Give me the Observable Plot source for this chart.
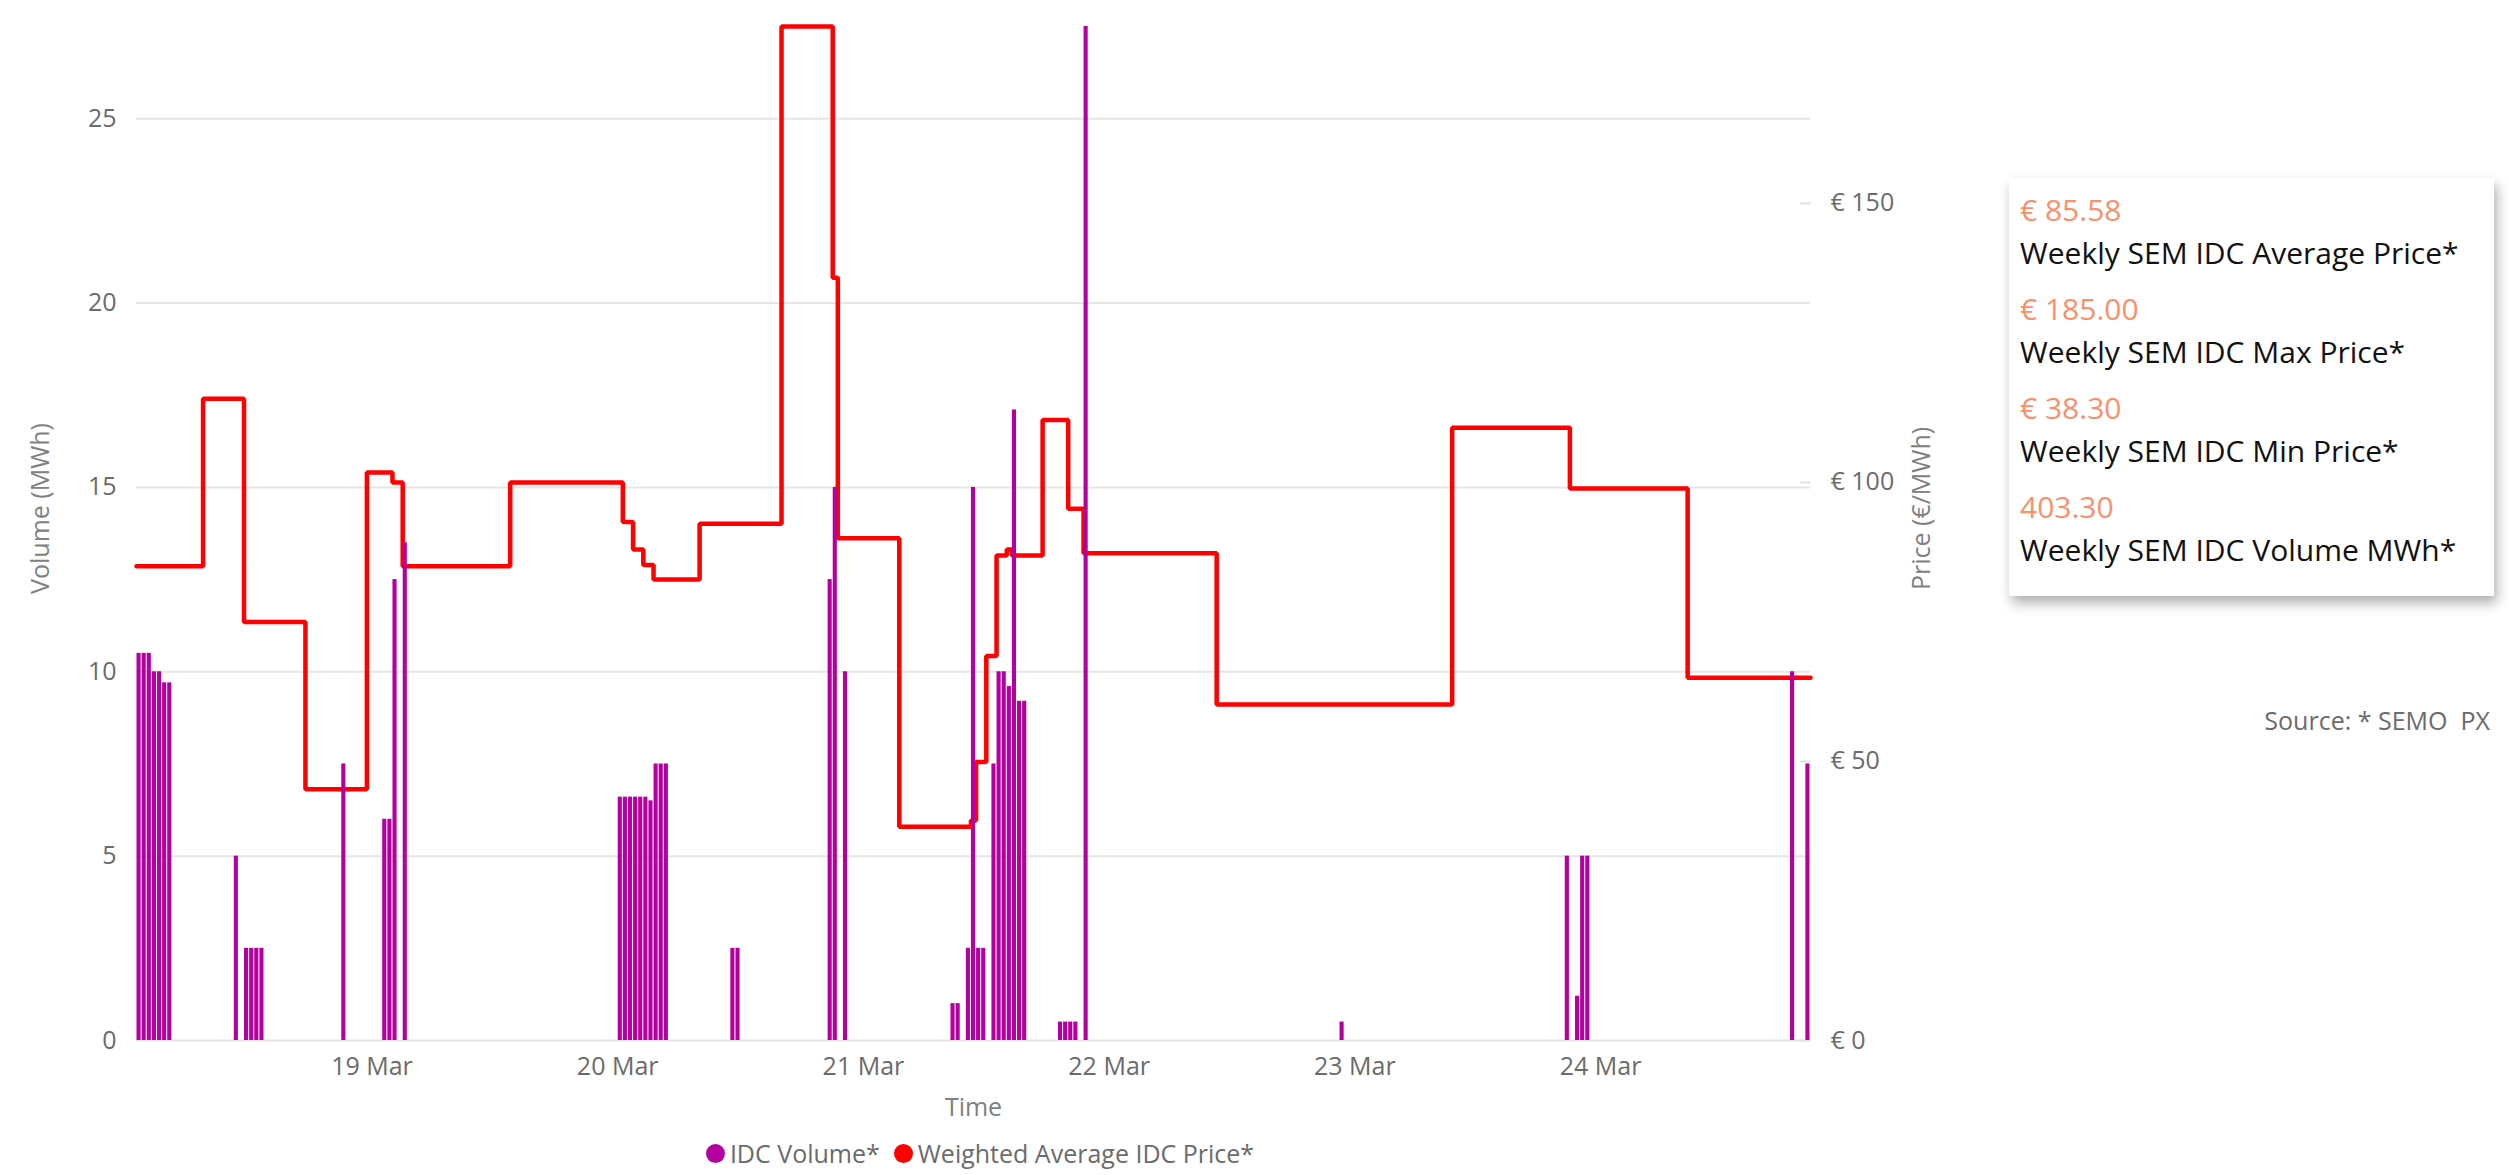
<!DOCTYPE html>
<html>
<head>
<meta charset="utf-8">
<script src="https://cdn.jsdelivr.net/npm/d3@7"></script>
<script src="https://cdn.jsdelivr.net/npm/@observablehq/plot@0.6"></script>
<style>
  html, body { margin: 0; padding: 0; background: #fff; }
  #page { position: relative; width: 2509px; height: 1175px; overflow: hidden; font-family: 'Open Sans', sans-serif; }
  #chart { position: absolute; left: 0; top: 0; }
  #legend { position: absolute; left: 0; width: 1960px; top: 1136px; height: 34px; display: flex; justify-content: center; align-items: center; font-size: 25px; color: #6b6b6b; white-space: nowrap; }
  #legend .item { display: flex; align-items: center; }
  #legend .dot { width: 19px; height: 19px; border-radius: 50%; margin-right: 5px; }
  #legend .item + .item { margin-left: 14px; }
  #card { position: absolute; left: 2009px; top: 178px; width: 485px; height: 418px; background: #fff; box-shadow: 3px 7px 12px rgba(0,0,0,0.32); box-sizing: border-box; padding: 10px 0 0 11px; }
  #card .val { font-size: 30px; line-height: 43px; color: #fa8f6a; white-space: nowrap; }
  #card .lab { font-size: 30px; line-height: 43px; color: #111; white-space: nowrap; margin-bottom: 13px; }
  #source { position: absolute; right: 19px; top: 703px; font-size: 25px; line-height: 34px; color: #6b6b6b; white-space: pre; }
</style>
</head>
<body>
<div id="page">
  <div id="chart"></div>
  <div id="legend"></div>
  <div id="card"></div>
  <div id="source"></div>
</div>
<script>
// ---- data ----
const volumeTimes = [
  "2024-03-18T01:00","2024-03-18T01:30","2024-03-18T02:00","2024-03-18T02:30","2024-03-18T03:00","2024-03-18T03:30","2024-03-18T04:00",
  "2024-03-18T10:30",
  "2024-03-18T11:30","2024-03-18T12:00","2024-03-18T12:30","2024-03-18T13:00",
  "2024-03-18T21:00",
  "2024-03-19T01:00","2024-03-19T01:30","2024-03-19T02:00","2024-03-19T03:00",
  "2024-03-20T00:00","2024-03-20T00:30","2024-03-20T01:00","2024-03-20T01:30","2024-03-20T02:00","2024-03-20T02:30","2024-03-20T03:00","2024-03-20T03:30","2024-03-20T04:00","2024-03-20T04:30",
  "2024-03-20T11:00","2024-03-20T11:30",
  "2024-03-20T20:30","2024-03-20T21:00","2024-03-20T22:00",
  "2024-03-21T08:30","2024-03-21T09:00","2024-03-21T10:00","2024-03-21T10:30","2024-03-21T11:00","2024-03-21T11:30",
  "2024-03-21T12:30","2024-03-21T13:00","2024-03-21T13:30","2024-03-21T14:00","2024-03-21T14:30","2024-03-21T15:00","2024-03-21T15:30",
  "2024-03-21T19:00","2024-03-21T19:30","2024-03-21T20:00","2024-03-21T20:30",
  "2024-03-21T21:30",
  "2024-03-22T22:30",
  "2024-03-23T20:30","2024-03-23T21:30","2024-03-23T22:00","2024-03-23T22:30",
  "2024-03-24T18:30","2024-03-24T20:00"
];
const volumeValues = [
  10.5,10.5,10.5,10.0,10.0,9.7,9.7,
  5.0,
  2.5,2.5,2.5,2.5,
  7.5,
  6.0,6.0,12.5,13.5,
  6.6,6.6,6.6,6.6,6.6,6.6,6.5,7.5,7.5,7.5,
  2.5,2.5,
  12.5,15.0,10.0,
  1.0,1.0,2.5,15.0,2.5,2.5,
  7.5,10.0,10.0,9.6,17.1,9.2,9.2,
  0.5,0.5,0.5,0.5,
  27.5,
  0.5,
  5.0,1.2,5.0,5.0,
  10.0,7.5
];
const priceTimes = [
  "2024-03-18T01:00","2024-03-18T07:30","2024-03-18T11:30","2024-03-18T17:30","2024-03-18T23:30",
  "2024-03-19T02:00","2024-03-19T03:00","2024-03-19T13:30",
  "2024-03-20T00:30","2024-03-20T01:30","2024-03-20T02:30","2024-03-20T03:30","2024-03-20T08:00","2024-03-20T16:00","2024-03-20T21:00","2024-03-20T21:30",
  "2024-03-21T03:30","2024-03-21T10:30","2024-03-21T11:00","2024-03-21T12:00","2024-03-21T13:00","2024-03-21T14:00","2024-03-21T14:30","2024-03-21T17:30","2024-03-21T20:00","2024-03-21T21:30",
  "2024-03-22T10:30","2024-03-23T09:30","2024-03-23T21:00","2024-03-24T08:30","2024-03-24T20:30"
];
const priceValues = [
  85.0,115.0,75.0,45.0,101.8,
  100.0,85.0,100.0,
  92.9,88.0,85.2,82.6,92.6,181.7,136.7,90.0,
  38.3,39.4,49.9,68.9,86.9,88.0,86.9,111.2,95.3,87.3,
  60.2,109.8,98.9,65.0,65.0
];
const volumeTicks = [0, 5, 10, 15, 20, 25];
const priceTicks = [0, 50, 100, 150];
const dayTicks = ["2024-03-19","2024-03-20","2024-03-21","2024-03-22","2024-03-23","2024-03-24"];
const xStart = "2024-03-18T01:00";
const xEnd = "2024-03-24T20:30";
const legendLabels = ["IDC Volume*", "Weighted Average IDC Price*"];
const cardValues = ["€ 85.58", "€ 185.00", "€ 38.30", "403.30"];
const cardLabels = ["Weekly SEM IDC Average Price*", "Weekly SEM IDC Max Price*", "Weekly SEM IDC Min Price*", "Weekly SEM IDC Volume MWh*"];
const sourceText = "Source: * SEMO  PX";

// ---- build ----
const parseT = d3.utcParse("%Y-%m-%dT%H:%M");
const parseD = d3.utcParse("%Y-%m-%d");
const PURPLE = "#b4009e", RED = "#ff0000";
const volData = volumeTimes.map((t, i) => ({t: parseT(t), v: volumeValues[i]}));
const priceData = priceTimes.map((t, i) => ({t: parseT(t), p: priceValues[i]}));
const VOL_TOP = d3.max(volumeValues);
const PRICE_TOP = d3.max(priceValues);
const k = VOL_TOP / PRICE_TOP;
const HALF_HOUR = 30 * 60 * 1000;
const priceTicksScaled = priceTicks.map(p => p * k);

const chart = Plot.plot({
  width: 1960,
  height: 1130,
  marginLeft: 136,
  marginRight: 150,
  marginTop: 26,
  marginBottom: 90,
  style: {fontFamily: "'Open Sans', sans-serif", fontSize: "25px", color: "#6b6b6b", background: "transparent", overflow: "visible"},
  x: {type: "utc", domain: [parseT(xStart), parseT(xEnd)]},
  y: {domain: [0, VOL_TOP]},
  marks: [
    Plot.gridY(volumeTicks, {stroke: "#e6e6e6", strokeWidth: 2, strokeOpacity: 1}),
    Plot.axisY(priceTicksScaled, {anchor: "right", tickSize: -11, tickPadding: 31, label: null, fontSize: 25, stroke: "#e3e3e3", strokeWidth: 2, tickFormat: () => ""}),
    Plot.axisY(volumeTicks, {anchor: "left", tickSize: 0, tickPadding: 20, label: null, fontSize: 25}),
    Plot.axisY(priceTicksScaled, {anchor: "right", tickSize: 0, tickPadding: 20, label: null, fontSize: 25, tickFormat: d => "€ " + Math.round(d / k)}),
    Plot.axisX(dayTicks.map(parseD), {anchor: "bottom", tickSize: 0, tickPadding: 17, label: null, fontSize: 25, tickFormat: d3.utcFormat("%-d %b")}),
    Plot.line(priceData, {x: "t", y: d => d.p * k, curve: "step-after", stroke: RED, strokeWidth: 4.5, strokeLinejoin: "miter"}),
    Plot.rect(volData, {x1: "t", x2: d => new Date(+d.t + HALF_HOUR), y1: 0, y2: "v", fill: PURPLE, insetLeft: 0.5, insetRight: 0.5}),
    Plot.text(["Volume (MWh)"], {frameAnchor: "left", dx: -96, dy: -25, rotate: -90, textAnchor: "middle", lineAnchor: "middle", fill: "#808080", fontSize: 25}),
    Plot.text(["Price (€/MWh)"], {frameAnchor: "right", dx: 111, dy: -25, rotate: -90, textAnchor: "middle", lineAnchor: "middle", fill: "#808080", fontSize: 25}),
    Plot.text(["Time"], {frameAnchor: "bottom", dy: 67, textAnchor: "middle", lineAnchor: "middle", fill: "#808080", fontSize: 25})
  ]
});
document.getElementById("chart").appendChild(chart);

// legend
const legend = document.getElementById("legend");
[PURPLE, RED].forEach((c, i) => {
  const item = document.createElement("div");
  item.className = "item";
  const dot = document.createElement("span");
  dot.className = "dot";
  dot.style.background = c;
  const txt = document.createElement("span");
  txt.textContent = legendLabels[i];
  item.appendChild(dot);
  item.appendChild(txt);
  legend.appendChild(item);
});

// card
const card = document.getElementById("card");
cardValues.forEach((v, i) => {
  const a = document.createElement("div"); a.className = "val"; a.textContent = v;
  const b = document.createElement("div"); b.className = "lab"; b.textContent = cardLabels[i];
  card.appendChild(a); card.appendChild(b);
});
document.getElementById("source").textContent = sourceText;
</script>
</body>
</html>
